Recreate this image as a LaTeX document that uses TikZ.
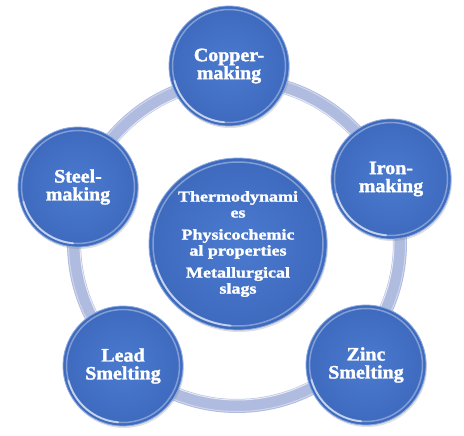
\documentclass[tikz,border=0pt]{standalone}
\usepackage{fontspec}
\newfontfamily\outerfont[FakeStretch=1.05,FakeBold=1.6]{Liberation Serif}
\newfontfamily\centerfont[FakeStretch=1.2,FakeBold=1.6]{Liberation Serif}
\usetikzlibrary{shadows,shapes.geometric}
\definecolor{accentin}{RGB}{74,122,206}
\definecolor{accentout}{RGB}{62,106,190}
\definecolor{accentrim}{RGB}{140,170,225}
\definecolor{ringc}{RGB}{176,187,224}
\begin{document}
\begin{tikzpicture}[x=1pt,y=-1pt,
  bubble/.style={circle, minimum size=120pt, inner sep=0pt, align=center,
    text=white, inner color=accentin, outer color=accentout,
    draw=accentrim, line width=0.8pt,
    drop shadow={opacity=0.25, shadow xshift=1pt, shadow yshift=-2pt},
    font=\outerfont\bfseries\fontsize{19}{18}\selectfont},
  hub/.style={ellipse, minimum width=178pt, minimum height=172pt, inner sep=0pt,
    align=center, text=white, inner color=accentin, outer color=accentout,
    draw=accentrim, line width=0.8pt,
    drop shadow={opacity=0.25, shadow xshift=1pt, shadow yshift=-2pt},
    font=\centerfont\bfseries\fontsize{15}{16}\selectfont},
  rim/.style={white, opacity=0.35, line width=1.5pt},
  glint/.style={white, opacity=0.55, line width=2pt, line cap=round}]
\fill[white] (0,0) rectangle (464,436);
\useasboundingbox (0,0) rectangle (464,436);
\coordinate (ringcenter) at (237,243);
\draw[ringc, line width=14pt] (ringcenter) circle (163pt);
\draw[white, opacity=0.7, line width=1pt] (ringcenter) circle (157pt);
\draw[white, opacity=0.4, line width=1pt] (ringcenter) circle (168.5pt);
\node[hub] (hub) at (238,244) {Thermodynami\\es\\[6pt]Physicochemic\\al properties\\[6pt]Metallurgical\\slags};
\node[bubble] (copper) at (229,66) {Copper-\\making};
\node[bubble] (iron) at (391,179) {Iron-\\making};
\node[bubble] (zinc) at (366,365) {Zinc\\Smelting};
\node[bubble] (lead) at (123,366) {Lead\\Smelting};
\node[bubble] (steel) at (78,187) {Steel-\\making};
\foreach \n in {copper,iron,zinc,lead,steel}{
  \draw[rim] (\n.center) circle (56.5pt);
  \draw[glint] ([shift={(195:56.5pt)}]\n.center) arc (195:265:56.5pt);
}
\draw[rim] (hub.center) ellipse (85pt and 82pt);
\draw[glint] ([shift={(195:85pt and 82pt)}]hub.center) arc (195:265:85pt and 82pt);
\end{tikzpicture}
\end{document}
